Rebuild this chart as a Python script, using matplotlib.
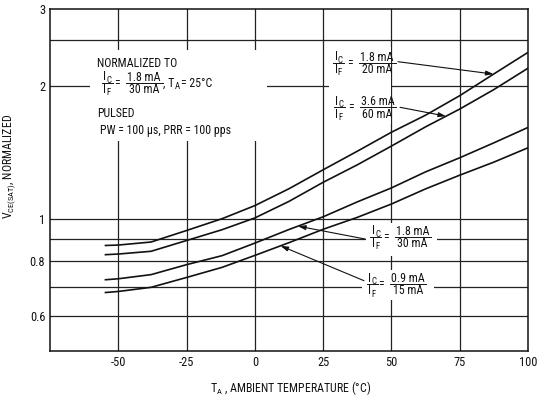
import numpy as np
import matplotlib
matplotlib.use("Agg")
import matplotlib.pyplot as plt
from matplotlib.patches import Rectangle
from matplotlib.lines import Line2D
from matplotlib import font_manager

# ---------------- data ----------------
temps = [-55, -50, -38, -25, -12, 0, 12.5, 25, 37.5, 50, 62.5, 75, 87.5, 100]
v_18_20 = [0.869, 0.871, 0.885, 0.940, 1.000, 1.071, 1.170, 1.292, 1.424, 1.573, 1.720, 1.905, 2.135, 2.39]
v_36_60 = [0.828, 0.831, 0.843, 0.892, 0.944, 1.004, 1.095, 1.210, 1.326, 1.463, 1.618, 1.776, 1.967, 2.20]
v_18_30 = [0.726, 0.730, 0.746, 0.786, 0.824, 0.880, 0.945, 1.010, 1.092, 1.175, 1.278, 1.376, 1.488, 1.613]
v_09_15 = [0.679, 0.683, 0.698, 0.735, 0.775, 0.825, 0.882, 0.946, 1.007, 1.080, 1.169, 1.256, 1.345, 1.45]

x_ticks = [-50, -25, 0, 25, 50, 75, 100]
x_ticklabels = ["-50", "-25", "0", "25", "50", "75", "100"]
y_ticks = [0.6, 0.8, 1, 2, 3]
y_ticklabels = ["0.6", "0.8", "1", "2", "3"]
y_grid = [0.6, 0.7, 0.8, 0.9, 1, 2, 2.55]
x_grid = [-50, -25, 0, 25, 50, 75]

# ---------------- fonts ----------------
names = {f.name for f in font_manager.fontManager.ttflist}
fam = next((n for n in ("Roboto Condensed", "Archivo Narrow", "PT Sans Narrow", "Liberation Sans")
            if n in names), "DejaVu Sans")
plt.rcParams["font.family"] = [fam, "DejaVu Sans"]
plt.rcParams["mathtext.fontset"] = "custom"
plt.rcParams["mathtext.rm"] = fam
plt.rcParams["mathtext.it"] = fam
plt.rcParams["mathtext.bf"] = fam
plt.rcParams["mathtext.sf"] = fam

FS = 8.6
FS_SUB = 6.4
INK = "#111111"
W, H = 538, 398
AX_L, AX_R, AX_T, AX_B = 50, 528, 9, 351

fig = plt.figure(figsize=(W / 100, H / 100), dpi=100)
ax = fig.add_axes([AX_L / W, 1 - AX_B / H, (AX_R - AX_L) / W, (AX_B - AX_T) / H])
ax.set_yscale("log")
ax.set_xlim(-75, 100)
ax.set_ylim(0.5, 3)


def P(x, y):
    """reference pixel (from top-left) -> axes fraction"""
    return (x - AX_L) / (AX_R - AX_L), (AX_B - y) / (AX_B - AX_T)


for g in y_grid:
    ax.axhline(g, color="#222222", lw=0.9, zorder=0.5)
for g in x_grid:
    ax.axvline(g, color="#222222", lw=0.9, zorder=0.5)

for s in ax.spines.values():
    s.set_linewidth(1.1)
    s.set_color(INK)

ax.set_xticks(x_ticks)
ax.set_xticklabels(x_ticklabels)
ax.yaxis.set_minor_locator(matplotlib.ticker.NullLocator())
ax.set_yticks(y_ticks)
ax.set_yticklabels(y_ticklabels)
ax.tick_params(length=0, labelsize=FS + 0.3, colors=INK, pad=3.5)

for vals in (v_18_20, v_36_60, v_18_30, v_09_15):
    ax.plot(temps, vals, color=INK, lw=1.2, zorder=3, solid_capstyle="butt",
            solid_joinstyle="round")


def white(x0, y0, x1, y1):
    (a, b), (c, d) = P(x0, y1), P(x1, y0)
    ax.add_patch(Rectangle((a, b), c - a, d - b, transform=ax.transAxes,
                           facecolor="white", edgecolor="none", zorder=1))


def txt(x, y, s, ha="left", va="baseline", size=FS):
    ax.text(*P(x, y), s, transform=ax.transAxes, ha=ha, va=va, fontsize=size,
            color=INK, zorder=5)


def bar(x0, x1, y):
    (a, b), (c, _) = P(x0, y), P(x1, y)
    ax.add_line(Line2D([a, c], [b, b], transform=ax.transAxes, color=INK, lw=0.7,
                       zorder=5))


def i_sub(x, y, sub):
    txt(x, y, "I")
    txt(x + 3.3, y + 2.2, sub, size=FS_SUB)


def fraction(x0, yb, num, den, sp=0.0):
    """I_C/I_F = num/den ; x0 = left of I_C, yb = bar height (pixels from top)"""
    i_sub(x0, yb - 2.2, "C")
    i_sub(x0, yb + 10.5, "F")
    bar(x0 - 1.5, x0 + 9.5, yb)
    txt(x0 + 14 + sp, yb + 0.6, "=", ha="center", va="center")
    bar(x0 + 23 + sp, x0 + 59.5 + sp, yb)
    txt(x0 + 41 + sp, yb - 2, num, ha="center")
    txt(x0 + 41 + sp, yb + 10.5, den, ha="center")


# normalization note (top-left)
white(90, 50, 267, 141)
txt(96.7, 67, "NORMALIZED TO")
fraction(103, 82.7, "1.8 mA", "30 mA")
txt(162.7, 86.7, ", T")
txt(175.0, 88.9, "A", size=FS_SUB)
txt(181.0, 86.7, "= 25°C")
txt(96.7, 117, "PULSED")
txt(100, 133.6, "PW = 100 µs, PRR = 100 pps")

# curve labels
white(329, 47, 391, 124)
fraction(334.5, 62.7, "1.8 mA", "20 mA", sp=1.5)
fraction(335, 107.3, "3.6 mA", "60 mA", sp=1.5)
white(366, 223, 437, 256)
fraction(371.7, 236.7, "1.8 mA", "30 mA")
white(362, 270, 434, 300)
fraction(368.3, 284, "0.9 mA", "15 mA", sp=-1.5)


def tip(t, vals):
    return t, float(np.exp(np.interp(t, temps, np.log(vals))))


ap = dict(arrowstyle="-|>,head_length=0.45,head_width=0.14", color=INK, lw=0.8,
          shrinkA=0, shrinkB=0)
for (t, vals), tail in (((87.4, v_18_20), (398, 61.7)),
                        ((70.0, v_36_60), (400, 107.3)),
                        ((15.8, v_18_30), (365, 239)),
                        ((9.4, v_09_15), (364, 280.7))):
    ann = ax.annotate("", xy=tip(t, vals), xycoords="data", xytext=P(*tail),
                      textcoords="axes fraction", arrowprops=ap)
    ann.set_zorder(4)

fig.text(291 / W, 1 - 392 / H, r"T$_\mathrm{A}$ , AMBIENT TEMPERATURE (°C)",
         ha="center", va="baseline", fontsize=FS, color=INK)
fig.text(10 / W, 1 - 166 / H, r"V$_\mathrm{CE(SAT)}$, NORMALIZED", rotation=90,
         ha="center", va="center", fontsize=FS, color=INK)

fig.savefig("out.png", dpi=100, facecolor="white")
